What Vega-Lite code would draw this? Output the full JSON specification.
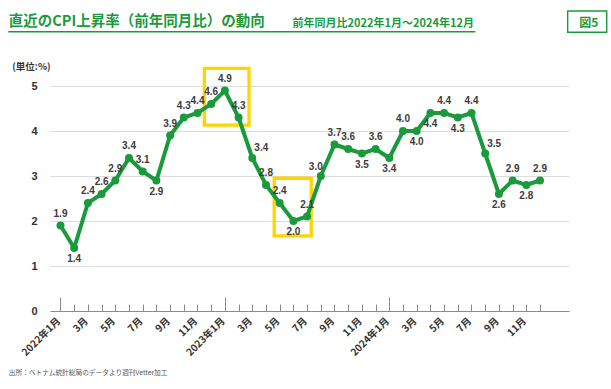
{
  "$schema": "https://vega.github.io/schema/vega-lite/v6.json",
  "width": 519,
  "height": 225,
  "autosize": {"type": "none"},
  "padding": {"left": 50, "top": 86, "right": 42, "bottom": 78},
  "background": "white",
  "config": {"view": {"stroke": null}},
  "data": {
    "values": [
      {"month": "2022-01", "i": 0, "v": 1.9},
      {"month": "2022-02", "i": 1, "v": 1.4},
      {"month": "2022-03", "i": 2, "v": 2.4},
      {"month": "2022-04", "i": 3, "v": 2.6},
      {"month": "2022-05", "i": 4, "v": 2.9},
      {"month": "2022-06", "i": 5, "v": 3.4},
      {"month": "2022-07", "i": 6, "v": 3.1},
      {"month": "2022-08", "i": 7, "v": 2.9},
      {"month": "2022-09", "i": 8, "v": 3.9},
      {"month": "2022-10", "i": 9, "v": 4.3},
      {"month": "2022-11", "i": 10, "v": 4.4},
      {"month": "2022-12", "i": 11, "v": 4.6},
      {"month": "2023-01", "i": 12, "v": 4.9},
      {"month": "2023-02", "i": 13, "v": 4.3},
      {"month": "2023-03", "i": 14, "v": 3.4},
      {"month": "2023-04", "i": 15, "v": 2.8},
      {"month": "2023-05", "i": 16, "v": 2.4},
      {"month": "2023-06", "i": 17, "v": 2.0},
      {"month": "2023-07", "i": 18, "v": 2.1},
      {"month": "2023-08", "i": 19, "v": 3.0},
      {"month": "2023-09", "i": 20, "v": 3.7},
      {"month": "2023-10", "i": 21, "v": 3.6},
      {"month": "2023-11", "i": 22, "v": 3.5},
      {"month": "2023-12", "i": 23, "v": 3.6},
      {"month": "2024-01", "i": 24, "v": 3.4},
      {"month": "2024-02", "i": 25, "v": 4.0},
      {"month": "2024-03", "i": 26, "v": 4.0},
      {"month": "2024-04", "i": 27, "v": 4.4},
      {"month": "2024-05", "i": 28, "v": 4.4},
      {"month": "2024-06", "i": 29, "v": 4.3},
      {"month": "2024-07", "i": 30, "v": 4.4},
      {"month": "2024-08", "i": 31, "v": 3.5},
      {"month": "2024-09", "i": 32, "v": 2.6},
      {"month": "2024-10", "i": 33, "v": 2.9},
      {"month": "2024-11", "i": 34, "v": 2.8},
      {"month": "2024-12", "i": 35, "v": 2.9}
    ]
  },
  "resolve": {"axis": {"x": "independent", "y": "independent"}},
  "layer": [
    {
      "data": {"values": [{}]},
      "mark": {"type": "rule", "color": "#1a9a3c", "strokeWidth": 1.5},
      "encoding": {
        "x": {"datum": -3.81, "type": "quantitative", "scale": {"domain": [-0.766, 37.117], "nice": false, "zero": false}, "axis": null},
        "x2": {"datum": 30.28},
        "y": {"datum": 6.207, "type": "quantitative", "scale": {"domain": [0, 5], "nice": false, "zero": false}, "axis": null}
      }
    },
    {
      "data": {"values": [{}]},
      "mark": {"type": "rect", "filled": false, "color": "#1a9a3c", "strokeWidth": 1.4},
      "encoding": {
        "x": {"datum": 37.02, "type": "quantitative", "scale": {"domain": [-0.766, 37.117], "nice": false, "zero": false}, "axis": null},
        "x2": {"datum": 39.87},
        "y": {"datum": 6.667, "type": "quantitative", "scale": {"domain": [0, 5], "nice": false, "zero": false}, "axis": null},
        "y2": {"datum": 6.193}
      }
    },
    {
      "data": {"values": [{}]},
      "mark": {"type": "rect", "filled": false, "color": "#ffd400", "strokeWidth": 3.3},
      "encoding": {
        "x": {
          "datum": 10.5, "type": "quantitative",
          "scale": {"domain": [-0.766, 37.117], "nice": false, "zero": false},
          "axis": {
            "orient": "top", "labels": false, "ticks": false, "domain": false, "grid": false,
            "title": "図5", "titleFont": "Noto Sans CJK JP", "titleFontSize": 12, "titleFontWeight": "bold",
            "titleColor": "#1a9a3c", "titleAlign": "center", "titleBaseline": "alphabetic", "titleAngle": 0,
            "titleX": 538.3, "titleY": -60
          }
        },
        "x2": {"datum": 13.76},
        "y": {
          "datum": 5.39, "type": "quantitative",
          "scale": {"domain": [0, 5], "nice": false, "zero": false},
          "axis": {
            "orient": "right", "labels": false, "ticks": false, "domain": false, "grid": false,
            "title": "前年同月比2022年1月～2024年12月", "titleFont": "Noto Sans CJK JP", "titleFontSize": 11, "titleFontWeight": "bold",
            "titleColor": "#1a9a3c", "titleAlign": "left", "titleBaseline": "alphabetic", "titleAngle": 0,
            "titleX": -277, "titleY": -59.5
          }
        },
        "y2": {"datum": 4.13}
      }
    },
    {
      "data": {"values": [{}]},
      "mark": {"type": "rect", "filled": false, "color": "#ffd400", "strokeWidth": 3.3},
      "encoding": {
        "x": {
          "datum": 15.6, "type": "quantitative",
          "scale": {"domain": [-0.766, 37.117], "nice": false, "zero": false},
          "axis": {
            "orient": "top", "labels": false, "ticks": false, "domain": false, "grid": false,
            "title": "直近のCPI上昇率（前年同月比）の動向", "titleFont": "Noto Sans CJK JP", "titleFontSize": 14.5, "titleFontWeight": "bold",
            "titleColor": "#1a9a3c", "titleAlign": "left", "titleBaseline": "alphabetic", "titleAngle": 0,
            "titleX": -41.7, "titleY": -60.3
          }
        },
        "x2": {"datum": 18.3},
        "y": {"datum": 2.95, "type": "quantitative", "scale": {"domain": [0, 5], "nice": false, "zero": false}, "axis": null},
        "y2": {"datum": 1.67}
      }
    },
    {
      "mark": {"type": "line", "color": "#1a9a3c", "strokeWidth": 4},
      "encoding": {
        "x": {
          "field": "i", "type": "quantitative",
          "scale": {"domain": [-0.766, 37.117], "nice": false, "zero": false},
          "axis": {
            "orient": "bottom",
            "values": [0,1,2,3,4,5,6,7,8,9,10,11,12,13,14,15,16,17,18,19,20,21,22,23,24,25,26,27,28,29,30,31,32,33,34,35],
            "labelExpr": "datum.value % 2 != 0 ? '' : (datum.value % 12 == 0 ? (2022 + floor(datum.value / 12)) + '年1月' : (datum.value % 12 + 1) + '月')",
            "labelAngle": -45, "labelAlign": "right", "labelBaseline": "middle",
            "labelFont": "Noto Sans CJK JP", "labelFontSize": 10, "labelFontWeight": "bold", "labelColor": "#333333",
            "labelOverlap": false, "labelBound": false, "labelFlush": false, "labelOffset": -2,
            "tickSize": {"condition": {"test": "datum.value % 12 == 0", "value": -14}, "value": -7},
            "labelPadding": {"condition": {"test": "datum.value % 12 == 0", "value": 22}, "value": 15},
            "tickColor": "#8c8c8c", "tickWidth": 1, "domainColor": "#8c8c8c", "domainWidth": 1.2, "grid": false,
            "title": "出所：ベトナム統計総局のデータより週刊Vetter加工", "titleFont": "Noto Sans CJK JP", "titleFontSize": 6.7,
            "titleFontWeight": "normal", "titleColor": "#555555", "titleAlign": "left", "titleBaseline": "middle", "titleAngle": 0,
            "titleX": -41.7, "titleY": 61
          }
        },
        "y": {
          "field": "v", "type": "quantitative",
          "scale": {"domain": [0, 5], "nice": false, "zero": false},
          "axis": {
            "orient": "left", "values": [0, 1, 2, 3, 4, 5], "grid": true, "gridColor": "#dcdcdc", "gridWidth": 1,
            "domain": false, "ticks": false,
            "labelFont": "Liberation Sans", "labelFontSize": 11, "labelFontWeight": "bold", "labelColor": "#333333", "labelPadding": 13,
            "title": "(単位:%)", "titleFont": "Noto Sans CJK JP", "titleFontSize": 9.5, "titleFontWeight": "bold", "titleColor": "#333333",
            "titleAngle": 0, "titleAlign": "left", "titleBaseline": "middle", "titleX": -38.3, "titleY": -19.3
          }
        }
      }
    },
    {
      "mark": {"type": "point", "filled": true, "color": "#1a9a3c", "size": 64, "opacity": 1},
      "encoding": {
        "x": {"field": "i", "type": "quantitative", "scale": {"domain": [-0.766, 37.117], "nice": false, "zero": false}, "axis": null},
        "y": {"field": "v", "type": "quantitative", "scale": {"domain": [0, 5], "nice": false, "zero": false}, "axis": null}
      }
    },
    {
      "transform": [{"filter": {"field": "i", "oneOf": [0,2,3,4,5,6,8,9,10,11,12,13,15,16,18,20,21,23,25,28,30,33,35]}}],
      "mark": {"type": "text", "dy": -12, "font": "Liberation Sans", "fontSize": 10, "fontWeight": "bold", "color": "#3c3c3c"},
      "encoding": {
        "x": {"field": "i", "type": "quantitative", "scale": {"domain": [-0.766, 37.117], "nice": false, "zero": false}, "axis": null},
        "y": {"field": "v", "type": "quantitative", "scale": {"domain": [0, 5], "nice": false, "zero": false}, "axis": null},
        "text": {"field": "v", "type": "quantitative", "format": ".1f"}
      }
    },
    {
      "transform": [{"filter": {"field": "i", "oneOf": [1,7,17,22,24,26,27,29,32,34]}}],
      "mark": {"type": "text", "dy": 11, "font": "Liberation Sans", "fontSize": 10, "fontWeight": "bold", "color": "#3c3c3c"},
      "encoding": {
        "x": {"field": "i", "type": "quantitative", "scale": {"domain": [-0.766, 37.117], "nice": false, "zero": false}, "axis": null},
        "y": {"field": "v", "type": "quantitative", "scale": {"domain": [0, 5], "nice": false, "zero": false}, "axis": null},
        "text": {"field": "v", "type": "quantitative", "format": ".1f"}
      }
    },
    {
      "transform": [{"filter": {"field": "i", "oneOf": [14,31]}}],
      "mark": {"type": "text", "dx": 9, "dy": -10, "font": "Liberation Sans", "fontSize": 10, "fontWeight": "bold", "color": "#3c3c3c"},
      "encoding": {
        "x": {"field": "i", "type": "quantitative", "scale": {"domain": [-0.766, 37.117], "nice": false, "zero": false}, "axis": null},
        "y": {"field": "v", "type": "quantitative", "scale": {"domain": [0, 5], "nice": false, "zero": false}, "axis": null},
        "text": {"field": "v", "type": "quantitative", "format": ".1f"}
      }
    },
    {
      "transform": [{"filter": {"field": "i", "oneOf": [19]}}],
      "mark": {"type": "text", "dx": -5, "dy": -9, "font": "Liberation Sans", "fontSize": 10, "fontWeight": "bold", "color": "#3c3c3c"},
      "encoding": {
        "x": {"field": "i", "type": "quantitative", "scale": {"domain": [-0.766, 37.117], "nice": false, "zero": false}, "axis": null},
        "y": {"field": "v", "type": "quantitative", "scale": {"domain": [0, 5], "nice": false, "zero": false}, "axis": null},
        "text": {"field": "v", "type": "quantitative", "format": ".1f"}
      }
    }
  ]
}
